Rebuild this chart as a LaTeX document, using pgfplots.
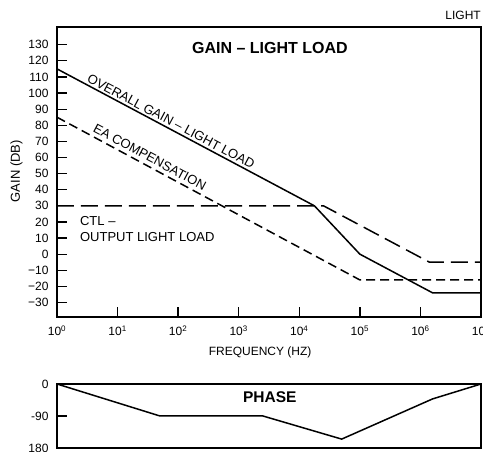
\documentclass[border=0pt]{standalone}
\usepackage{fontspec}
\setmainfont{Liberation Sans}
\usepackage{pgfplots}
\pgfplotsset{compat=1.18}
\begin{document}
\begin{tikzpicture}
\path[use as bounding box] (0pt,0pt) rectangle (483pt,452pt);
\begin{axis}[
  at={(57pt,135pt)}, anchor=south west,
  scale only axis, width=424pt, height=290pt,
  xmode=log, xmin=1, xmax=1e7, ymin=-39, ymax=141,
  clip mode=individual,
  axis line style={line width=2pt},
  xminorticks=false,
  xtick={1,10,100,1000,1e4,1e5,1e6,1e7},
  xticklabels={10\textsuperscript{0},10\textsuperscript{1},10\textsuperscript{2},10\textsuperscript{3},10\textsuperscript{4},10\textsuperscript{5},10\textsuperscript{6},10\textsuperscript{7}},
  ytick={-30,-20,...,130},
  yticklabels={−30,−20,−10,0,10,20,30,40,50,60,70,80,90,100,110,120,130},
  tick pos=left,
  major tick length=10pt,
  tick style={line width=1.3pt, black},
  tick label style={font=\fontsize{12}{12}\selectfont},
  xticklabel style={yshift=-5pt},
  yticklabel style={xshift=-5pt},
  xlabel={FREQUENCY (HZ)},
  xlabel style={at={(rel axis cs:0.479,-0.123)}, anchor=center, font=\fontsize{12}{12}\selectfont},
  ylabel={GAIN (DB)},
  ylabel style={at={(rel axis cs:-0.0955,0.503)}, anchor=center, font=\fontsize{13}{13}\selectfont},
]
\addplot[black, line width=1.5pt] coordinates {(1,115) (17783,30) (1e5,0) (1584893,-24) (1e7,-24)};
\addplot[black, line width=1.5pt, dash pattern=on 9pt off 5pt] coordinates {(1,85) (1e5,-16) (1e7,-16)};
\addplot[black, line width=1.5pt, dash pattern=on 17pt off 7pt] coordinates {(1,30) (25119,30) (1412538,-5) (1e7,-5)};
\node[font=\bfseries\fontsize{16}{16}\selectfont] at (rel axis cs:0.502,0.928) {GAIN – LIGHT LOAD};
\node[rotate=-28, font=\fontsize{13}{13}\selectfont] at (rel axis cs:0.269,0.675) {OVERALL GAIN – LIGHT LOAD};
\node[rotate=-28, font=\fontsize{13}{13}\selectfont] at (rel axis cs:0.219,0.551) {EA COMPENSATION};
\node[anchor=west, align=left, font=\fontsize{13}{16}\selectfont, inner sep=0pt] at (rel axis cs:0.054,0.303) {CTL –\\OUTPUT LIGHT LOAD};
\node[anchor=east, font=\fontsize{12}{12}\selectfont, inner sep=0pt] at (rel axis cs:1.0,1.041) {LIGHT};
\end{axis}
\begin{axis}[
  at={(57pt,4pt)}, anchor=south west,
  scale only axis, width=424pt, height=64pt,
  xmode=log, xmin=1, xmax=1e7, ymin=-180, ymax=0,
  clip mode=individual,
  axis line style={line width=2pt},
  xminorticks=false,
  xtick=\empty,
  ytick={-180,-90,0},
  yticklabels={180,-90,0},
  tick pos=left,
  major tick length=10pt,
  tick style={line width=1.3pt, black},
  tick label style={font=\fontsize{12}{12}\selectfont},
  yticklabel style={xshift=-5pt},
]
\addplot[black, line width=1.5pt] coordinates {(1,0) (50.1,-90) (2512,-90) (50119,-155) (1584893,-42) (1e7,0)};
\node[font=\bfseries\fontsize{15.5}{15.5}\selectfont] at (rel axis cs:0.502,0.8) {PHASE};
\end{axis}
\end{tikzpicture}
\end{document}
